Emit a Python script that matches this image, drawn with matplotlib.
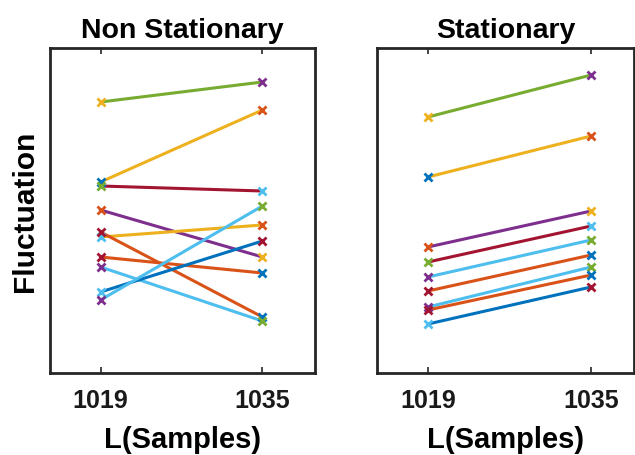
import matplotlib
matplotlib.use("Agg")
import matplotlib.pyplot as plt

plt.rcParams['font.family'] = ['Liberation Sans', 'DejaVu Sans']
plt.rcParams['font.weight'] = 'bold'

# MATLAB default colours
C = {
    'blue': '#0072BD', 'orange': '#D95319', 'yellow': '#EDB120',
    'purple': '#7E2F8E', 'green': '#77AC30', 'lblue': '#4DBEEE',
    'dred': '#A2142F',
}

x_vals = [1019, 1035]
x_ticklabels = ['1019', '1035']

# Non Stationary panel
ns_start = [2.71, 1.91, 1.87, 1.63, 1.36, 1.41, 1.16, 1.06, 0.81, 0.73]
ns_end = [2.91, 2.63, 1.82, 1.16, 1.48, 0.56, 1.00, 0.52, 1.32, 1.67]
ns_line_colors = ['green', 'yellow', 'dred', 'purple', 'yellow', 'orange',
                  'orange', 'lblue', 'blue', 'lblue']
ns_mk_start = ['yellow', 'blue', 'green', 'orange', 'lblue', 'dred',
               'dred', 'purple', 'lblue', 'purple']
ns_mk_end = ['purple', 'orange', 'lblue', 'yellow', 'orange', 'blue',
             'blue', 'green', 'dred', 'green']

# Stationary panel
st_start = [2.56, 1.96, 1.26, 1.11, 0.96, 0.82, 0.66, 0.63, 0.49]
st_end = [2.98, 2.37, 1.62, 1.47, 1.33, 1.18, 1.06, 0.98, 0.86]
st_line_colors = ['green', 'yellow', 'purple', 'dred', 'lblue', 'orange',
                  'lblue', 'orange', 'blue']
st_mk_start = ['yellow', 'blue', 'orange', 'green', 'purple', 'dred',
               'purple', 'dred', 'lblue']
st_mk_end = ['purple', 'orange', 'yellow', 'lblue', 'green', 'blue',
             'green', 'blue', 'dred']

fig = plt.figure(figsize=(6.35, 4.56), dpi=100)
ax1 = fig.add_axes([50/635, (456-374)/456, 265/635, 325/456])
ax2 = fig.add_axes([377/635, (456-374)/456, 257/635, 325/456])


def draw(ax, ys, ye, lc, ms, me, title, xlim):
    for a, b, c, m1, m2 in zip(ys, ye, lc, ms, me):
        ax.plot(x_vals, [a, b], color=C[c], lw=2.2, zorder=2)
        ax.plot([x_vals[0]], [a], 'x', color=C[m1], ms=5.5, mew=2, zorder=3)
        ax.plot([x_vals[1]], [b], 'x', color=C[m2], ms=5.5, mew=2, zorder=3)
    ax.set_xlim(*xlim)
    ax.set_ylim(0, 3.25)
    ax.set_xticks(x_vals)
    ax.set_xticklabels(x_ticklabels, fontsize=18, fontweight='bold')
    ax.set_yticks([])
    ax.tick_params(axis='x', direction='in', length=4, width=1.2, top=True,
                   pad=11, colors='#262626', labelcolor='#1a1a1a')
    for s in ax.spines.values():
        s.set_linewidth(2)
        s.set_color('#262626')
    ax.set_title(title, fontsize=20.5, fontweight='bold', pad=8)
    ax.set_xlabel('L(Samples)', fontsize=21, fontweight='bold', labelpad=9)


draw(ax1, ns_start, ns_end, ns_line_colors, ns_mk_start, ns_mk_end,
     'Non Stationary', (1014, 1040.2))
draw(ax2, st_start, st_end, st_line_colors, st_mk_start, st_mk_end,
     'Stationary', (1014, 1039.2))
ax1.set_ylabel('Fluctuation', fontsize=21.5, fontweight='bold', labelpad=8)

fig.savefig('out.png', dpi=100)
